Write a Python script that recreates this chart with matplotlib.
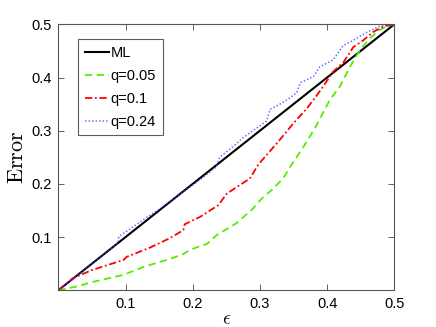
import matplotlib
matplotlib.use("Agg")
import matplotlib.pyplot as plt

ml_x = [0.0, 0.5]
ml_y = [0.0, 0.5]

g_x = [0, 0.027, 0.052, 0.097, 0.127, 0.166, 0.186, 0.196, 0.211, 0.221, 0.236, 0.241, 0.265,
       0.290, 0.303, 0.318, 0.335, 0.345, 0.365, 0.382, 0.404, 0.419, 0.434, 0.449, 0.464,
       0.479, 0.49, 0.5]
g_y = [0, 0.007, 0.016, 0.029, 0.044, 0.059, 0.068, 0.076, 0.083, 0.087, 0.104, 0.108, 0.126,
       0.154, 0.173, 0.189, 0.211, 0.232, 0.270, 0.305, 0.358, 0.383, 0.420, 0.452, 0.474,
       0.490, 0.497, 0.5]

r_x = [0, 0.022, 0.05, 0.097, 0.102, 0.136, 0.166, 0.186, 0.188, 0.196, 0.211, 0.238, 0.251,
       0.285, 0.298, 0.325, 0.350, 0.370, 0.385, 0.394, 0.409, 0.424, 0.439, 0.454, 0.469,
       0.484, 0.5]
r_y = [0, 0.023, 0.038, 0.057, 0.063, 0.080, 0.098, 0.113, 0.124, 0.129, 0.138, 0.160, 0.182,
       0.210, 0.237, 0.276, 0.314, 0.342, 0.367, 0.383, 0.411, 0.428, 0.457, 0.470, 0.486,
       0.496, 0.5]

b_x = [0, 0.03, 0.06, 0.089, 0.09, 0.11, 0.13, 0.15, 0.18, 0.21, 0.235, 0.24, 0.26, 0.275,
       0.31, 0.315, 0.33, 0.345, 0.355, 0.36, 0.38, 0.389, 0.409, 0.424, 0.439, 0.459, 0.479, 0.5]
b_y = [0, 0.03, 0.06, 0.089, 0.101, 0.118, 0.136, 0.152, 0.180, 0.207, 0.232, 0.250, 0.270,
       0.287, 0.318, 0.340, 0.350, 0.362, 0.372, 0.390, 0.402, 0.420, 0.433, 0.460, 0.470,
       0.485, 0.497, 0.5]

ticks = [0.1, 0.2, 0.3, 0.4, 0.5]
tick_labels = ["0.1", "0.2", "0.3", "0.4", "0.5"]

plt.rcParams['font.family'] = ['Liberation Sans', 'DejaVu Sans']
plt.rcParams['mathtext.fontset'] = 'cm'

fig = plt.figure(figsize=(4.36, 3.27), dpi=100)
ax = fig.add_axes([58.3 / 436, 1 - 290.3 / 327, 336 / 436, 266 / 327])

ax.plot(ml_x, ml_y, color='black', lw=1.5, label='ML')
ax.plot(g_x, g_y, color='#55ee00', lw=1.3, ls=(0, (4, 2.5)), label='q=0.05')
ax.plot(r_x, r_y, color='#ff0000', lw=1.3, ls=(0, (4, 1.5, 1, 1.5)), label='q=0.1')
ax.plot(b_x, b_y, color='#3344ff', lw=1.1, ls=(0, (1, 1.3)), label='q=0.24', alpha=0.75)

ax.set_xlim(0, 0.5)
ax.set_ylim(0, 0.5)
ax.set_xticks(ticks)
ax.set_xticklabels(tick_labels)
ax.set_yticks(ticks)
ax.set_yticklabels(tick_labels)
ax.tick_params(direction='in', top=True, right=True, length=4, width=0.6,
               labelsize=10.5, color='#444444', pad=5)
for s in ax.spines.values():
    s.set_color('#555555')
    s.set_linewidth(0.8)

ax.set_ylabel(r'$\mathrm{Error}$', fontsize=16, labelpad=2)
ax.set_xlabel(r'$\epsilon$', fontsize=14, labelpad=0)

leg = ax.legend(loc='upper left', bbox_to_anchor=(0.06, 0.944), fontsize=10.5,
                frameon=True, fancybox=False, edgecolor='#333333', handlelength=1.65,
                handletextpad=0.12, labelspacing=0.62, borderpad=0.45, borderaxespad=0)
leg.get_frame().set_linewidth(0.8)

fig.savefig('out.png', dpi=100)
